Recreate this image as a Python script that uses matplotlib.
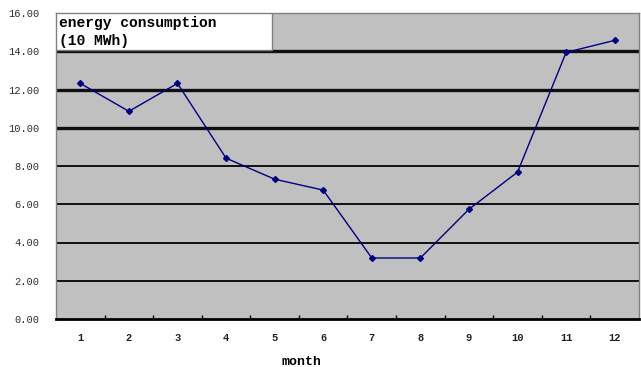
import matplotlib
matplotlib.use("Agg")
import matplotlib.pyplot as plt
from matplotlib.patches import Rectangle

months = ["1", "2", "3", "4", "5", "6", "7", "8", "9", "10", "11", "12"]
consumption = [12.32, 10.86, 12.32, 8.41, 7.31, 6.74, 3.19, 3.19, 5.74, 7.68, 13.94, 14.57]
y_ticks = [0, 2, 4, 6, 8, 10, 12, 14, 16]

W, H = 641, 367
fig = plt.figure(figsize=(W / 100, H / 100), dpi=100)
ax = fig.add_axes([56 / W, 1 - 319 / H, (639 - 56) / W, (319 - 13) / H])
ax.set_facecolor("#c0c0c0")

x = list(range(1, len(months) + 1))
ax.set_xlim(0.5, len(months) + 0.5)
ax.set_ylim(0, 16)

# horizontal gridlines; the upper ones are drawn heavier
for v in y_ticks[1:-1]:
    lw = 2.4 if v >= 10 else 1.4
    ax.axhline(v, color="#101010", lw=lw, zorder=1)

ax.plot(x, consumption, color="#000080", lw=1.0, marker="D", ms=3.0,
        mec="#000080", mfc="#000080", zorder=3)

# category ticks sit on the boundaries, labels at the centres
ax.set_xticks([i + 0.5 for i in x[:-1]])
ax.set_xticklabels([])
ax.tick_params(axis="x", direction="in", length=3, width=1, color="black")
for xi, lab in zip(x, months):
    ax.text(xi, -1.0, lab, ha="center", va="center", fontsize=7.5,
            family="Liberation Mono", fontweight="bold", color="#202020")

ax.set_yticks(y_ticks)
ax.set_yticklabels([f"{v:.2f}" for v in y_ticks], fontsize=7.5,
                   family="Liberation Mono", color="#303030")
ax.tick_params(axis="y", length=0, pad=12)

for side in ("top", "right", "left"):
    ax.spines[side].set_color("#808080")
    ax.spines[side].set_linewidth(1.0)
ax.spines["bottom"].set_color("black")
ax.spines["bottom"].set_linewidth(2.0)

# title box in the upper left corner
ax.add_patch(Rectangle((0, 1 - 37 / 306), 216 / 583, 37 / 306,
                       transform=ax.transAxes, facecolor="white",
                       edgecolor="#808080", lw=1.0, zorder=4))
ax.text(3 / 583, 1 - 3 / 306, "energy consumption\n(10 MWh)",
        transform=ax.transAxes, ha="left", va="top", fontsize=10.5,
        family="Liberation Mono", fontweight="bold", linespacing=1.35,
        zorder=5)

fig.text(302 / W, 1 - 362 / H, "month", ha="center", va="center",
         fontsize=9.5, family="Liberation Mono", fontweight="bold")

fig.savefig("out.png", dpi=100)
